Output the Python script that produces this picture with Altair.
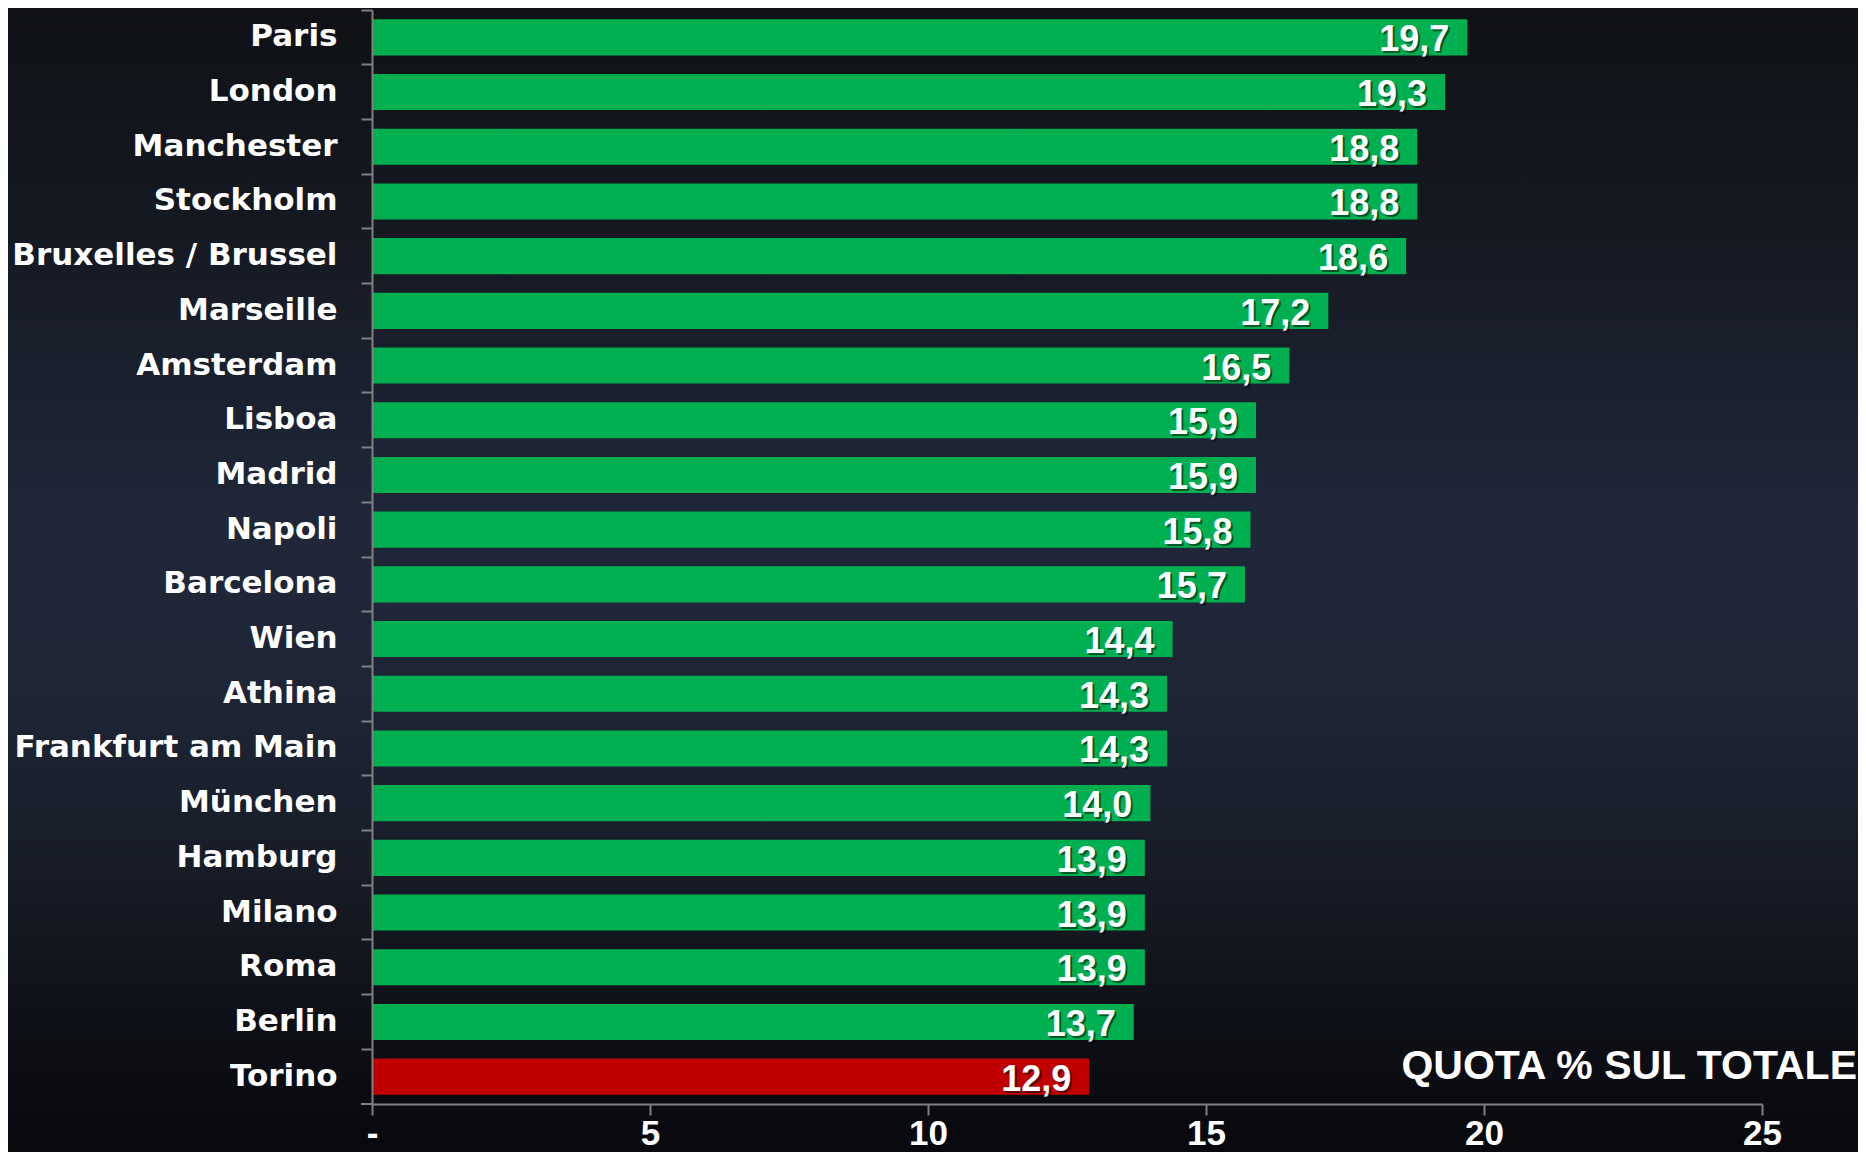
import altair as alt
import pandas as pd

cities = ["Paris", "London", "Manchester", "Stockholm", "Bruxelles / Brussel",
          "Marseille", "Amsterdam", "Lisboa", "Madrid", "Napoli", "Barcelona",
          "Wien", "Athina", "Frankfurt am Main", "München", "Hamburg", "Milano",
          "Roma", "Berlin", "Torino"]
values = [19.7, 19.3, 18.8, 18.8, 18.6, 17.2, 16.5, 15.9, 15.9, 15.8, 15.7,
          14.4, 14.3, 14.3, 14.0, 13.9, 13.9, 13.9, 13.7, 12.9]
highlight = "Torino"
x_ticks = [0, 5, 10, 15, 20, 25]
caption = "QUOTA % SUL TOTALE"

W, H = 1390, 1094
PAD = {"left": 364, "top": 2, "right": 96, "bottom": 48}

df = pd.DataFrame({"city": cities, "value": values})

GREEN = "#00B050"
RED = "#C00000"
GREY = "#808080"
BOLD_WIDE = "DejaVu Sans, Verdana, sans-serif"
ARIAL = "Liberation Sans, Arial, Helvetica, sans-serif"

y_enc = alt.Y("city:N", sort=cities, title=None,
              scale=alt.Scale(paddingInner=0, paddingOuter=0),
              axis=alt.Axis(labelFont=BOLD_WIDE, labelFontWeight="bold",
                            labelFontSize=31, labelColor="white",
                            labelPadding=24, labelLimit=500,
                            tickSize=11, tickWidth=2, tickColor=GREY,
                            domainColor=GREY, domainWidth=2,
                            bandPosition=0, grid=False, zindex=1))
x_enc = alt.X("value:Q", title=None,
              scale=alt.Scale(domain=[0, 25], nice=False),
              axis=alt.Axis(values=x_ticks, labelFont=ARIAL, labelFontWeight="bold",
                            labelFontSize=35, labelColor="white",
                            labelBaseline="alphabetic", labelPadding=29,
                            labelFlush=False, labelOverlap=False,
                            labelExpr="datum.value == 0 ? '-' : datum.label",
                            tickSize=11, tickWidth=2, tickColor=GREY,
                            domainColor=GREY, domainWidth=2, grid=False, zindex=1))

bg = alt.Chart(pd.DataFrame({"k": [0]})).mark_rect(
    color=alt.Gradient(
        gradient="linear", x1=0, x2=0, y1=0, y2=1,
        stops=[alt.GradientStop(offset=0, color="#0f1115"),
               alt.GradientStop(offset=0.2, color="#151922"),
               alt.GradientStop(offset=0.45, color="#1f2739"),
               alt.GradientStop(offset=0.6, color="#1e2535"),
               alt.GradientStop(offset=0.75, color="#171c27"),
               alt.GradientStop(offset=0.9, color="#0d0f15"),
               alt.GradientStop(offset=1, color="#08090d")])
).encode(x=alt.value(-PAD["left"]), x2=alt.value(W + PAD["right"]),
         y=alt.value(-PAD["top"]), y2=alt.value(H + PAD["bottom"]))

base = alt.Chart(df).transform_calculate(
    lab="replace(format(datum.value, '.1f'), '.', ',')")

bars = base.mark_bar(height=alt.RelativeBandSize(0.66)).encode(
    y=y_enc, x=x_enc,
    color=alt.condition(alt.datum.city == highlight, alt.value(RED), alt.value(GREEN)))

shadow = base.mark_text(align="right", baseline="alphabetic", dx=-16, dy=16,
                        font=ARIAL, fontWeight="bold", fontSize=36,
                        color="#000000", opacity=0.5).encode(
    y=alt.Y("city:N", sort=cities), x="value:Q", text="lab:N")

labels = base.mark_text(align="right", baseline="alphabetic", dx=-18, dy=14,
                        font=ARIAL, fontWeight="bold", fontSize=36,
                        color="white").encode(
    y=alt.Y("city:N", sort=cities), x="value:Q", text="lab:N")

cap = alt.Chart(pd.DataFrame({"t": [caption]})).mark_text(
    align="right", baseline="alphabetic", font=ARIAL, fontWeight="bold",
    fontSize=41, color="white").encode(
    text="t:N", x=alt.value(W + 95), y=alt.value(1069))

bottom_tick = alt.Chart(pd.DataFrame({"k": [0]})).mark_rule(
    color=GREY, strokeWidth=2).encode(
    x=alt.value(-11), x2=alt.value(0), y=alt.value(H))

chart = alt.layer(bg, bars, shadow, labels, cap, bottom_tick).properties(
    width=W, height=H,
    autosize=alt.AutoSizeParams(type="none"),
    padding=PAD,
    background="#0d0f14",
).configure_view(stroke=None)

chart.save("out.html", embed_options={"renderer": "svg", "actions": False})
